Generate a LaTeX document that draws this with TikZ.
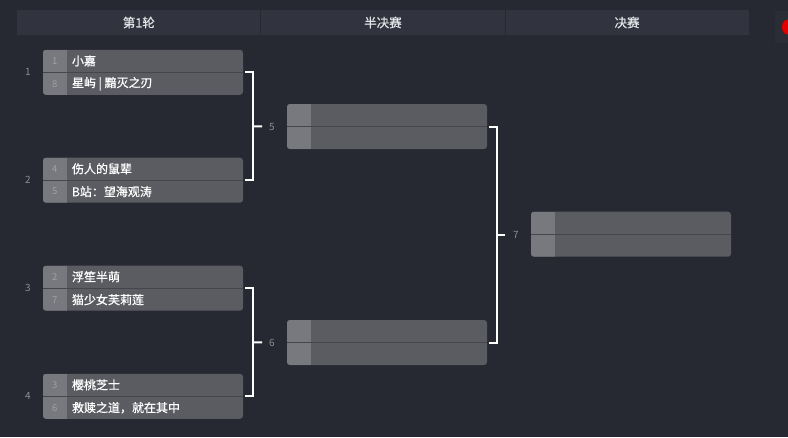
\documentclass[tikz,border=0pt]{standalone}
\usepackage{fontspec}
\setmainfont{Noto Sans CJK SC}
\newfontfamily\namefont[FakeBold=0.6]{Noto Sans CJK SC}
\usetikzlibrary{calc, positioning}

\definecolor{bgfill}{HTML}{272932}
\definecolor{headfill}{HTML}{31343F}
\definecolor{headtext}{HTML}{E4E5E8}
\definecolor{boxfill}{HTML}{5B5C62}
\definecolor{seedfill}{HTML}{78797F}
\definecolor{divline}{HTML}{45464C}
\definecolor{seedtext}{HTML}{A0A1A6}
\definecolor{numtext}{HTML}{8C8E95}
\definecolor{dotbox}{HTML}{2B2D36}

\begin{document}
\begin{tikzpicture}[
  x=1pt, y=-1pt,
  every node/.style={inner sep=0, font=\fontsize{12}{14}\selectfont},
  header/.style={fill=headfill, minimum width=243.7pt, minimum height=25pt, text=headtext,
    font=\namefont\fontsize{12.5}{14}\selectfont},
  match/.style={rounded corners=3pt, fill=boxfill, minimum width=200pt, minimum height=45pt,
    path picture={
      \fill[seedfill, sharp corners] (path picture bounding box.north west)
        rectangle ([xshift=24pt]path picture bounding box.south west);
      \draw[divline, line width=1pt] (path picture bounding box.west) -- (path picture bounding box.east);
    }},
  seed/.style={text=seedtext, font=\fontsize{9.5}{10}\selectfont},
  player/.style={anchor=west, text=white, font=\namefont\fontsize{12}{14}\selectfont},
  matchno/.style={text=numtext, font=\fontsize{10}{12}\selectfont},
  bracket/.style={draw=white, line width=2pt},
]
  \useasboundingbox[fill=bgfill] (0,0) rectangle (788,437);

  % header row
  \node[header] (h1) at (138.85,22.5) {第1轮};
  \node[header, right=0pt of h1] (h2) {半决赛};
  \node[header, right=0pt of h2] (h3) {决赛};
  \draw[bgfill, line width=1pt] (h1.north east) -- (h1.south east);
  \draw[bgfill, line width=1pt] (h2.north east) -- (h2.south east);

  % red dot at the right edge
  \fill[dotbox] (775,11) rectangle (788,43);
  \fill[red!90!black] (790,27) circle (8);

  % round 1
  \foreach \i/\y/\sa/\na/\sb/\nb in {
      1/72.3/1/小嘉/8/星屿 | 黯灭之刃,
      2/180.2/4/伤人的鼠辈/5/B站：望海观涛,
      3/288.2/2/浮笙半萌/7/猫少女芙莉莲,
      4/396.3/3/樱桃芝士/6/救赎之道，就在其中} {
    \node[match] (m\i) at (143,\y) {};
    \node[matchno] (n\i) at (28,\y) {\i};
    \node[seed] at ($(m\i.north west)+(12,11.25)$) {\sa};
    \node[seed] at ($(m\i.south west)+(12,-11.25)$) {\sb};
    \node[player] at ($(m\i.north west)+(29,11.25)$) {\na};
    \node[player] at ($(m\i.south west)+(29,-11.25)$) {\nb};
  }

  % semi-finals and final
  \node[match] (s5) at (387,126.5) {};
  \node[match] (s6) at (387,342.5) {};
  \node[match] (f7) at (631,234.2) {};

  \node[matchno] (r5) at (272,126.5) {5};
  \node[matchno] (r6) at (272,342.5) {6};
  \node[matchno] (r7) at (516,234.5) {7};

  % brackets
  \draw[bracket] ([xshift=2pt]m1.east) -- ++(8,0) |- ([xshift=2pt]m2.east);
  \draw[bracket, shorten >=7pt] ($(m1.east)!.5!(m2.east)+(10,0)$) -- (r5.west);
  \draw[bracket] ([xshift=2pt]m3.east) -- ++(8,0) |- ([xshift=2pt]m4.east);
  \draw[bracket, shorten >=7pt] ($(m3.east)!.5!(m4.east)+(10,0)$) -- (r6.west);
  \draw[bracket] ([xshift=2pt]s5.east) -- ++(8,0) |- ([xshift=2pt]s6.east);
  \draw[bracket, shorten >=8pt] ($(s5.east)!.5!(s6.east)+(10,0)$) -- (r7.west);
\end{tikzpicture}
\end{document}
